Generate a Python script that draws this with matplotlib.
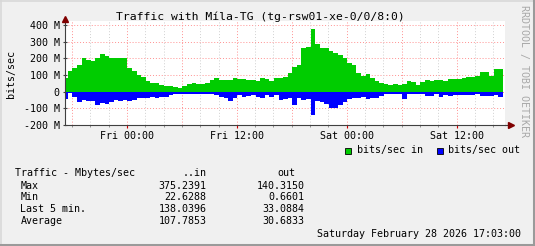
import numpy as np
import matplotlib
matplotlib.use('Agg')
import matplotlib.pyplot as plt
from matplotlib.lines import Line2D

# ---- data (Mbit/s, 30 minute steps, starting Thu 17:03) ----
start_hour = -6.95   # hours relative to Fri 00:00
step_hours = 0.5

bits_in = [
    80, 124, 140, 160, 200, 190, 186, 200, 225, 215,
    200, 200, 200, 200, 140, 125, 100, 86, 62, 50,
    50, 40, 36, 36, 30, 23, 36, 48, 52, 48,
    46, 54, 70, 80, 68, 72, 70, 84, 78, 76,
    68, 72, 62, 80, 76, 62, 80, 85, 90, 110,
    150, 160, 260, 270, 375, 285, 260, 262, 242, 230,
    222, 200, 172, 160, 110, 92, 105, 85, 66, 52,
    44, 40, 46, 40, 44, 62, 56, 38, 58, 68,
    64, 68, 72, 66, 74, 74, 76, 84, 88, 90,
    96, 120, 116, 95, 138, 138,
]
bits_out = [
    45, 10, 30, 60, 50, 55, 55, 80, 65, 76,
    64, 52, 56, 52, 58, 50, 36, 40, 38, 32,
    40, 30, 30, 18, 12, 12, 12, 12, 12, 15,
    16, 16, 12, 18, 30, 40, 55, 38, 22, 30,
    26, 20, 30, 36, 22, 30, 22, 50, 46, 36,
    80, 40, 50, 45, 140, 55, 60, 75, 95, 100,
    80, 64, 45, 36, 40, 30, 42, 36, 35, 24,
    12, 12, 12, 14, 44, 16, 12, 12, 14, 24,
    24, 16, 30, 20, 24, 18, 18, 20, 22, 20,
    16, 24, 24, 26, 20, 33,
]

y_ticks = [-200, -100, 0, 100, 200, 300, 400]
y_labels = ['-200 M', '-100 M', '0', '100 M', '200 M', '300 M', '400 M']
x_label_hours = [0, 12, 24, 36]
x_labels = ['Fri 00:00', 'Fri 12:00', 'Sat 00:00', 'Sat 12:00']

stat_rows = ['Max', 'Min', 'Last 5 min.', 'Average']
stat_in = ['375.2391', '22.6288', '138.0396', '107.7853']
stat_out = ['140.3150', '0.6601', '33.0884', '30.6833']

W, H = 535, 246
MONO = 'DejaVu Sans Mono'


def px(x, y):
    return x / W, 1 - y / H


fig = plt.figure(figsize=(W / 100, H / 100), dpi=100, facecolor='#F0F0F0')
ax = fig.add_axes([64.5 / W, 1 - 125 / H, (505 - 64.5) / W, (125 - 21) / H])
ax.set_facecolor('white')

edges = start_hour + np.arange(len(bits_in) + 1) * step_hours
ax.stairs(bits_in, edges, baseline=0, fill=True, color='#00CC00', zorder=3)
ax.stairs(-np.array(bits_out), edges, baseline=0, fill=True, color='#0000FF', zorder=3)

ax.set_xlim(-6.82, 41.28)
ax.set_ylim(-200, 424)

# grid like rrdtool: red major, grey minor, dotted
for v in y_ticks:
    ax.axhline(v, color='#FF9090', lw=0.7, ls=(0, (1, 2)), zorder=1)
for h in np.arange(-6, 42, 2):
    c = '#FF9090' if h % 6 == 0 else '#D0D0D0'
    ax.axvline(h, color=c, lw=0.7, ls=(0, (1, 2)), zorder=1)

ax.set_yticks(y_ticks, labels=y_labels)
ax.set_xticks(x_label_hours, labels=x_labels)
ax.set_xticks(np.arange(-6, 42, 2), minor=True)
ax.tick_params(axis='y', direction='inout', length=3, width=0.8, color='#404040',
               pad=2, labelsize=7.2, labelfontfamily=MONO)
ax.tick_params(axis='x', which='major', direction='out', length=2.5, width=0.8,
               color='#CC0000', pad=1.5, labelsize=7.2, labelfontfamily=MONO)
ax.tick_params(axis='x', which='minor', direction='out', length=1.5, width=0.6,
               color='#808080')

for s in ['top', 'right']:
    ax.spines[s].set_visible(False)
for s in ['left', 'bottom']:
    ax.spines[s].set_color('#404040')
    ax.spines[s].set_linewidth(0.8)
    ax.spines[s].set_zorder(4)

# axis arrows
ax.plot([1.0, 1.012], [0, 0], transform=ax.transAxes, color='#404040', lw=0.8,
        clip_on=False, zorder=4)
ax.plot([1.014], [0], marker='>', ms=4, color='#800000', transform=ax.transAxes,
        clip_on=False, zorder=5)
ax.plot([0], [1.015], marker='^', ms=4, color='#800000', transform=ax.transAxes,
        clip_on=False, zorder=5)

# texts
fig.text(*px(260, 16.5), 'Traffic with Míla-TG (tg-rsw01-xe-0/0/8:0)', family=MONO,
         fontsize=8.2, ha='center', va='center', color='black')
fig.text(*px(11.5, 74), 'bits/sec', family=MONO, fontsize=7.2, rotation=90,
         ha='center', va='center')
fig.text(*px(524, 71), 'RRDTOOL / TOBI OETIKER', family=MONO, fontsize=7.2,
         rotation=270, ha='center', va='center', color='#A8A8A8')

# legend
for xs, col, lab in [(345, '#00CC00', 'bits/sec in'), (436.5, '#0000FF', 'bits/sec out')]:
    fig.patches.append(plt.Rectangle(px(xs, 153.5), 6 / W, 6 / H, transform=fig.transFigure,
                                     facecolor=col, edgecolor='black', lw=0.6))
    fig.text(*px(xs + 12, 150), lab, family=MONO, fontsize=7.2, ha='left', va='center')

# statistics block
fig.text(*px(15, 173.3), 'Traffic - Mbytes/sec', family=MONO, fontsize=7.2, va='center')
fig.text(*px(206.5, 173.3), '..in', family=MONO, fontsize=7.2, va='center', ha='right')
fig.text(*px(295.5, 173.3), 'out', family=MONO, fontsize=7.2, va='center', ha='right')
for i, (r, vi, vo) in enumerate(zip(stat_rows, stat_in, stat_out)):
    y = 185.6 + i * 11.8
    fig.text(*px(20.5, y), r, family=MONO, fontsize=7.2, va='center')
    fig.text(*px(206.5, y), vi, family=MONO, fontsize=7.2, va='center', ha='right')
    fig.text(*px(304.5, y), vo, family=MONO, fontsize=7.2, va='center', ha='right')

fig.text(*px(521, 234), 'Saturday February 28 2026 17:03:00', family=MONO, fontsize=7.2,
         va='center', ha='right')

# frame shading
fig.add_artist(Line2D([0, 1], [1 - 0.5 / H] * 2, color='#D8D8D8', lw=1.2))
fig.add_artist(Line2D([0.5 / W] * 2, [0, 1], color='#D8D8D8', lw=1.2))
fig.add_artist(Line2D([0, 1], [1.5 / H] * 2, color='#9A9A9A', lw=2.2))
fig.add_artist(Line2D([1 - 1.5 / W] * 2, [0, 1], color='#9A9A9A', lw=2.2))

fig.savefig('out.png', dpi=100, facecolor=fig.get_facecolor())
